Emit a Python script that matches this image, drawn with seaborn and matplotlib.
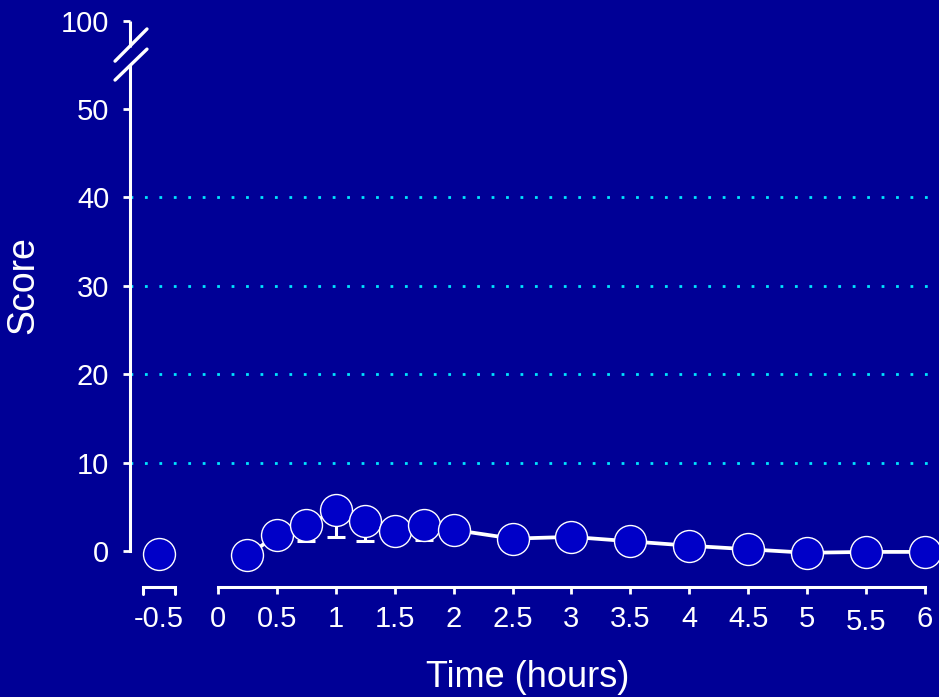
import numpy as np
import seaborn as sns
import matplotlib.pyplot as plt
from matplotlib.transforms import ScaledTranslation

# baseline reading taken before time zero
baseline_time = [-0.5]
baseline_score = [-0.3]

# mean score after time zero, with the lower error only (upper is hidden)
times = [0.25, 0.5, 0.75, 1.0, 1.25, 1.5, 1.75, 2.0, 2.5, 3.0, 3.5, 4.0, 4.5, 5.0, 5.5, 6.0]
scores = [-0.5, 1.8, 2.9, 4.6, 3.4, 2.3, 3.0, 2.4, 1.4, 1.6, 1.1, 0.6, 0.2, -0.2, -0.1, -0.1]
err_low = [0.0, 0.6, 1.8, 3.0, 2.3, 1.2, 1.8, 1.4, 0, 0, 0, 0, 0, 0, 0, 0]

x_ticks = [-0.5, 0, 0.5, 1, 1.5, 2, 2.5, 3, 3.5, 4, 4.5, 5, 5.5, 6]
x_labels = ["-0.5", "0", "0.5", "1", "1.5", "2", "2.5", "3", "3.5", "4", "4.5", "5", "5.5", "6"]
y_ticks = [0, 10, 20, 30, 40, 50, 100]
y_labels = ["0", "10", "20", "30", "40", "50", "100"]
grid_levels = [10, 20, 30, 40]

bg = "#000096"
marker_blue = "#0000C8"
cyan = "#00E5FF"

sns.set_style("ticks")
plt.rcParams["font.family"] = ["Liberation Sans", "DejaVu Sans"]


# y axis is squeezed above 50 so the 100 tick fits under the break
def squeeze(y):
    y = np.asarray(y, dtype=float)
    return np.where(y <= 50, y, 50 + (y - 50) * 0.2)


def unsqueeze(y):
    y = np.asarray(y, dtype=float)
    return np.where(y <= 50, y, 50 + (y - 50) / 0.2)


fig = plt.figure(figsize=(9.39, 6.97), dpi=100, facecolor=bg)
ax = fig.add_axes([130 / 939, 110 / 697, 809 / 939, 572 / 697])
ax.set_facecolor(bg)
ax.set_yscale("function", functions=(squeeze, unsqueeze))

for lvl in grid_levels:
    ax.axhline(lvl, color=cyan, lw=2, ls=(0, (1, 4.2)), zorder=0.5)

zeros = [0] * len(err_low)
ax.errorbar(times, scores, yerr=[err_low, zeros], fmt="none", ecolor="white",
            elinewidth=2.2, capsize=6.5, capthick=2.2, zorder=1.5, clip_on=False)

sns.lineplot(x=times, y=scores, color="white", lw=2.7, marker="o", markersize=23,
             markerfacecolor=marker_blue, markeredgecolor="white", markeredgewidth=1.0,
             errorbar=None, ax=ax, zorder=2, clip_on=False)
sns.scatterplot(x=baseline_time, y=baseline_score, s=23 ** 2, color=marker_blue,
                edgecolor="white", linewidth=1.0, ax=ax, zorder=3, clip_on=False)

ax.set_xlim(-0.747, 6.12)
ax.set_ylim(-4.07, 103.2)

for side in ["top", "right"]:
    ax.spines[side].set_visible(False)
for side in ["left", "bottom"]:
    ax.spines[side].set_color("white")
    ax.spines[side].set_linewidth(2.2)
ax.spines["left"].set_bounds(0, 74.1)
ax.spines["bottom"].set_bounds(0, 6)

# upper piece of the y axis and the break marks
ytr = ax.get_yaxis_transform()
ax.plot([0, 0], [85.1, 100], transform=ytr, color="white", lw=2.2, clip_on=False,
        solid_capstyle="butt")
ax.plot([-0.0185, 0.021], [77.1, 95.3], transform=ytr, color="white", lw=2.4, clip_on=False)
ax.plot([-0.0185, 0.021], [66.4, 83.9], transform=ytr, color="white", lw=2.4, clip_on=False)

# small bracket under the baseline point
xtr = ax.get_xaxis_transform()
tl = 7 / 572
ax.plot([-0.637, -0.637, -0.365, -0.365], [-tl, 0, 0, -tl], transform=xtr, color="white",
        lw=2.2, clip_on=False, solid_joinstyle="miter")

ax.set_xticks(x_ticks, x_labels)
ax.set_yticks(y_ticks, y_labels)
ax.yaxis.set_minor_locator(plt.NullLocator())
ax.tick_params(colors="white", labelsize=21, length=5, width=2, direction="out")
ax.tick_params(axis="x", pad=8)
ax.tick_params(axis="y", pad=10)
ax.xaxis.get_major_ticks()[0].tick1line.set_visible(False)

lbl = ax.xaxis.get_major_ticks()[12].label1
lbl.set_transform(lbl.get_transform() + ScaledTranslation(0, -3 / 100, fig.dpi_scale_trans))

ax.set_xlabel("Time (hours)", fontsize=26, color="white")
ax.set_ylabel("Score", fontsize=27, color="white")
ax.xaxis.set_label_coords(0.491, -0.128)
ax.yaxis.set_label_coords(-0.110, 0.528)

fig.savefig("out.png", dpi=100, facecolor=bg)
